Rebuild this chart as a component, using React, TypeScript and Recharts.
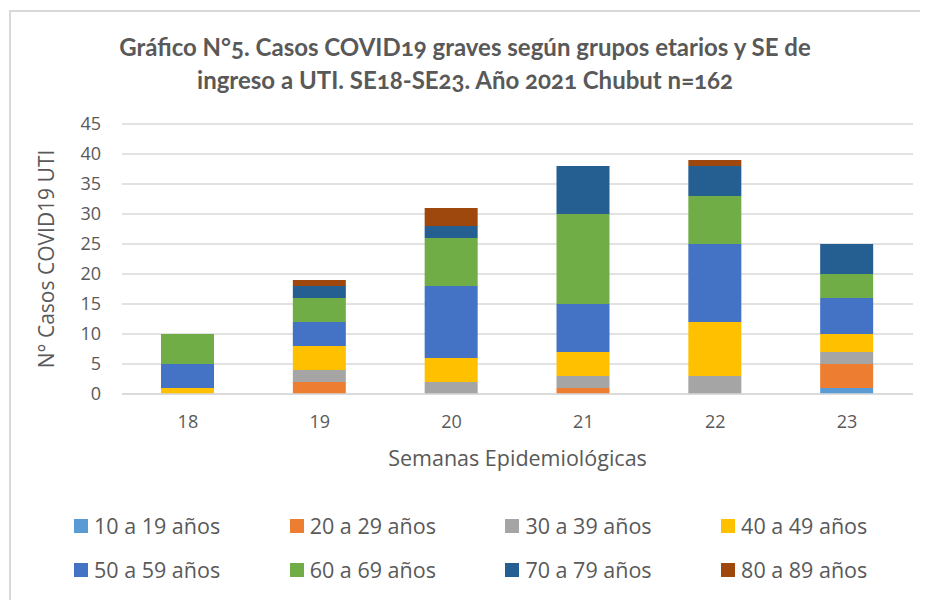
import React from 'react';
import { BarChart, Bar, XAxis, YAxis, CartesianGrid, Legend } from 'recharts';

const weeks = ['18', '19', '20', '21', '22', '23'];
const age10_19 = [0, 0, 0, 0, 0, 1];
const age20_29 = [0, 2, 0, 1, 0, 4];
const age30_39 = [0, 2, 2, 2, 3, 2];
const age40_49 = [1, 4, 4, 4, 9, 3];
const age50_59 = [4, 4, 12, 8, 13, 6];
const age60_69 = [5, 4, 8, 15, 8, 4];
const age70_79 = [0, 2, 2, 8, 5, 5];
const age80_89 = [0, 1, 3, 0, 1, 0];
const yTicks = [0, 5, 10, 15, 20, 25, 30, 35, 40, 45];

const series = [
  { key: 'a10', name: '10 a 19 años', values: age10_19, color: '#5B9BD5' },
  { key: 'a20', name: '20 a 29 años', values: age20_29, color: '#ED7D31' },
  { key: 'a30', name: '30 a 39 años', values: age30_39, color: '#A5A5A5' },
  { key: 'a40', name: '40 a 49 años', values: age40_49, color: '#FFC000' },
  { key: 'a50', name: '50 a 59 años', values: age50_59, color: '#4472C4' },
  { key: 'a60', name: '60 a 69 años', values: age60_69, color: '#70AD47' },
  { key: 'a70', name: '70 a 79 años', values: age70_79, color: '#255E91' },
  { key: 'a80', name: '80 a 89 años', values: age80_89, color: '#9E480E' },
];

const data = weeks.map((w, i) => {
  const row: Record<string, string | number> = { week: w };
  series.forEach((s) => {
    row[s.key] = s.values[i];
  });
  return row;
});

const TEXT = '#595959';
const FONT = '"Open Sans", "Noto Sans", sans-serif';

const LegendGrid = (props: any) => {
  const payload = props.payload || [];
  const order = series.map((s) => s.name);
  const items = [...payload].sort((a: any, b: any) => order.indexOf(a.value) - order.indexOf(b.value));
  return (
    <div style={{ position: 'absolute', left: 0, top: 0, width: 920 }}>
      {items.map((it: any, i: number) => {
        const col = i % 4;
        const row = Math.floor(i / 4);
        const left = 66 + col * 215.7;
        const top = 503 + row * 44;
        return (
          <div
            key={it.value}
            style={{ position: 'absolute', left, top, display: 'flex', alignItems: 'center', whiteSpace: 'nowrap' }}
          >
            <span style={{ width: 14, height: 14, background: it.color, display: 'inline-block', marginRight: 6 }} />
            <span style={{ fontFamily: FONT, fontSize: 21.5, color: TEXT, lineHeight: '30px' }}>{it.value}</span>
          </div>
        );
      })}
    </div>
  );
};

export default function App() {
  return (
    <div style={{ position: 'relative', width: 920, height: 592, overflow: 'hidden' }}>
      <div
        style={{
          position: 'absolute',
          left: 1,
          top: 2,
          width: 960,
          height: 640,
          border: '2px solid #d9d9d9',
          boxSizing: 'border-box',
        }}
      />
      <div
        style={{
          position: 'absolute',
          left: 0,
          top: 22,
          width: 914,
          textAlign: 'center',
          fontFamily: 'Lato, sans-serif',
          fontWeight: 700,
          fontSize: 24,
          lineHeight: '33px',
          color: TEXT,
          fontVariantNumeric: 'oldstyle-nums',
        }}
      >
        Gráfico N°5. Casos COVID19 graves según grupos etarios y SE de
        <br />
        ingreso a UTI. SE18-SE23. Año 2021 Chubut n=162
      </div>
      <BarChart
        width={920}
        height={592}
        data={data}
        margin={{ top: 116, right: 15, bottom: 176, left: 54 }}
        barSize={53}
        style={{ position: 'absolute', left: 0, top: 0 }}
      >
        <CartesianGrid vertical={false} stroke="#d9d9d9" strokeWidth={1.5} />
        <XAxis
          dataKey="week"
          height={30}
          tickLine={false}
          axisLine={{ stroke: '#d9d9d9', strokeWidth: 1.5 }}
          tick={{ fill: TEXT, fontSize: 18, fontFamily: FONT }}
          tickMargin={15}
          label={{
            value: 'Semanas Epidemiológicas',
            position: 'bottom',
            offset: 27,
            fill: TEXT,
            fontSize: 21.5,
            fontFamily: FONT,
          }}
        />
        <YAxis
          width={60}
          domain={[0, 45]}
          ticks={yTicks}
          interval={0}
          tickLine={false}
          axisLine={false}
          tick={{ fill: TEXT, fontSize: 18, fontFamily: FONT }}
          tickMargin={15}
          label={{
            value: 'N° Casos COVID19 UTI',
            angle: -90,
            position: 'insideLeft',
            offset: -15,
            fill: TEXT,
            fontSize: 21,
            fontFamily: FONT,
            style: { textAnchor: 'middle' },
          }}
        />
        {series.map((s) => (
          <Bar key={s.key} dataKey={s.key} name={s.name} stackId="a" fill={s.color} isAnimationActive={false} />
        ))}
        <Legend content={LegendGrid} wrapperStyle={{ left: 0, top: 0, width: 920, height: 0 }} />
      </BarChart>
    </div>
  );
}
